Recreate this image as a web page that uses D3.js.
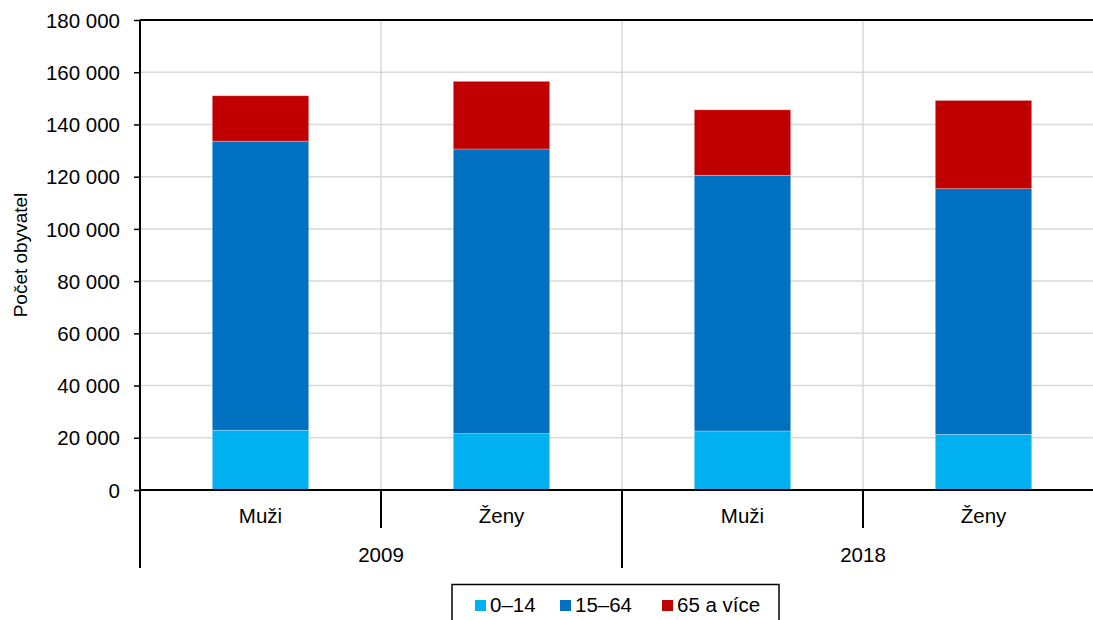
<!DOCTYPE html>
<html><head><meta charset="utf-8">
<script src="https://cdn.jsdelivr.net/npm/d3@7"></script>
<style>body{margin:0;background:#fff}svg{display:block}text{font-family:"Liberation Sans",Arial,sans-serif;fill:#000}</style>
</head><body><svg id="c" width="1093" height="620"></svg>
<script>
const categories = ["Muži","Ženy","Muži","Ženy"];
const years = ["2009","2018"];
const seriesNames = ["0–14","15–64","65 a více"];
const s0_14 = [22900, 21600, 22600, 21300];
const s15_64 = [110700, 109000, 97900, 94100];
const s65 = [17400, 25900, 25100, 33800];
const yTicks = [0,20000,40000,60000,80000,100000,120000,140000,160000,180000];
const colors = ["#00B0F0","#0070C0","#C00000"];

const svg = d3.select("#c");
const L = 140, R = 1104, T = 20, B = 490;
const FS = 20.5;
const x = d3.scaleBand().domain(d3.range(categories.length)).range([L,R]).paddingInner(0.6).paddingOuter(0.3);
const y = d3.scaleLinear().domain([0,180000]).range([B,T]);
const fmt = v => d3.format(",")(v).replace(/,/g," ");

// horizontal grid
svg.append("g").selectAll("line").data(yTicks.slice(1)).join("line")
  .attr("x1",L).attr("x2",1093).attr("y1",d=>y(d)).attr("y2",d=>y(d))
  .attr("stroke","#d9d9d9").attr("stroke-width",1.5);
// vertical grid at category boundaries
const bounds = d3.range(1,categories.length).map(i => L + i*x.step());
svg.append("g").selectAll("line").data(bounds).join("line")
  .attr("x1",d=>d).attr("x2",d=>d).attr("y1",T).attr("y2",B)
  .attr("stroke","#d9d9d9").attr("stroke-width",1.5);

// stacked bars
const rows = categories.map((c,i)=>({i, a:s0_14[i], b:s15_64[i], c:s65[i]}));
const stack = d3.stack().keys(["a","b","c"])(rows);
svg.append("g").selectAll("g").data(stack).join("g")
  .attr("fill",(d,k)=>colors[k])
  .selectAll("rect").data(d=>d).join("rect")
  .attr("x",d=>x(d.data.i)).attr("width",x.bandwidth())
  .attr("y",d=>y(d[1])).attr("height",d=>y(d[0])-y(d[1]))
  .attr("stroke","rgba(255,255,255,0.35)").attr("stroke-width",0.8);

// y axis
const yAxis = d3.axisLeft(y).tickValues(yTicks).tickFormat(fmt).tickSize(6).tickPadding(14);
const ya = svg.append("g").attr("transform",`translate(${L},0)`).call(yAxis);
ya.select(".domain").remove();
ya.selectAll("line").attr("stroke","#000").attr("stroke-width",1.5);
ya.selectAll("text").style("font-size",FS+"px").attr("font-family","Liberation Sans, Arial").attr("fill","#000").attr("dy","0.35em");

// axis lines
svg.append("line").attr("x1",L).attr("x2",L).attr("y1",T).attr("y2",568).attr("stroke","#000").attr("stroke-width",2);
svg.append("line").attr("x1",L).attr("x2",1093).attr("y1",B).attr("y2",B).attr("stroke","#000").attr("stroke-width",2);
svg.append("line").attr("x1",L).attr("x2",1093).attr("y1",T).attr("y2",T).attr("stroke","#000").attr("stroke-width",2);

// category ticks
bounds.forEach((bx,k)=>{
  const major = (k===1);
  svg.append("line").attr("x1",bx).attr("x2",bx).attr("y1",B).attr("y2",major?568:528)
    .attr("stroke","#000").attr("stroke-width",2);
});
// category labels
svg.append("g").selectAll("text").data(categories).join("text")
  .attr("x",(d,i)=>x(i)+x.bandwidth()/2).attr("y",523).attr("text-anchor","middle")
  .style("font-size",FS+"px").text(d=>d);
// year labels
svg.append("g").selectAll("text").data(years).join("text")
  .attr("x",(d,i)=>L + (2*i+1)*x.step()).attr("y",562).attr("text-anchor","middle")
  .style("font-size",FS+"px").text(d=>d);

// y title
svg.append("text").attr("transform",`translate(27,${(T+B)/2}) rotate(-90)`)
  .attr("text-anchor","middle").style("font-size","19px").text("Počet obyvatel");

// legend
const lg = svg.append("g");
lg.append("rect").attr("x",452).attr("y",584.5).attr("width",327).attr("height",50)
  .attr("fill","#fff").attr("stroke","#000").attr("stroke-width",1.5);
const lx = [475, 560, 662];
seriesNames.forEach((n,k)=>{
  lg.append("rect").attr("x",lx[k]).attr("y",600).attr("width",11).attr("height",11).attr("fill",colors[k]);
  lg.append("text").attr("x",lx[k]+15).attr("y",612).style("font-size",FS+"px").text(n);
});
</script></body></html>
